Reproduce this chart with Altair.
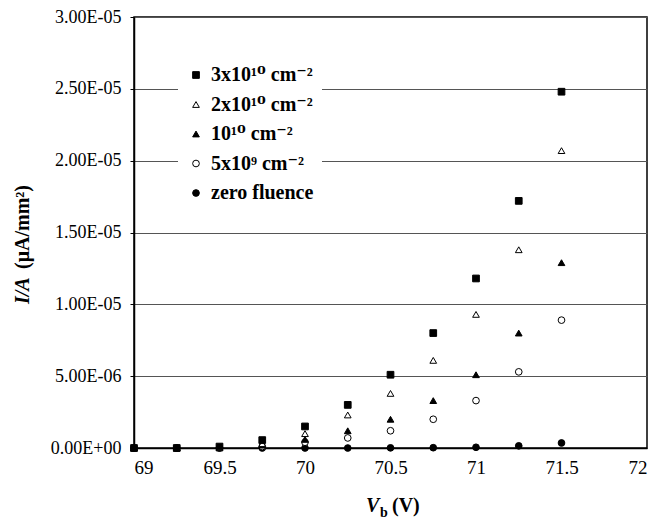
import altair as alt
import pandas as pd

vb = [69.0, 69.25, 69.5, 69.75, 70.0, 70.25, 70.5, 70.75, 71.0, 71.25, 71.5]
series_names = ["3x10¹⁰ cm⁻²", "2x10¹⁰ cm⁻²", "10¹⁰ cm⁻²", "5x10⁹ cm⁻²", "zero fluence"]
s_3e10 = [0.0, 0.0, 0.1e-6, 0.55e-6, 1.5e-6, 3.0e-6, 5.1e-6, 8.0e-6, 11.8e-6, 17.2e-6, 24.8e-6]
s_2e10 = [0.0, 0.0, 0.02e-6, 0.3e-6, 1.0e-6, 2.3e-6, 3.8e-6, 6.1e-6, 9.3e-6, 13.8e-6, 20.7e-6]
s_1e10 = [0.0, 0.0, 0.01e-6, 0.2e-6, 0.6e-6, 1.2e-6, 2.0e-6, 3.3e-6, 5.1e-6, 8.0e-6, 12.9e-6]
s_5e9 = [0.0, 0.0, 0.0, 0.1e-6, 0.4e-6, 0.7e-6, 1.2e-6, 2.0e-6, 3.3e-6, 5.3e-6, 8.9e-6]
s_zero = [0.0, 0.0, 0.0, 0.0, 0.0, 0.0, 0.01e-6, 0.02e-6, 0.05e-6, 0.15e-6, 0.35e-6]
x_ticks = [69, 69.5, 70, 70.5, 71, 71.5, 72]
y_ticks = [0, 5e-6, 1e-5, 1.5e-5, 2e-5, 2.5e-5, 3e-5]

shapes = ["square", "triangle-up", "triangle-up", "circle", "circle"]
fills = ["black", "white", "black", "white", "black"]
strokes = ["black"] * 5

rows = []
for name, vals in zip(series_names[::-1], [s_zero, s_5e9, s_1e10, s_2e10, s_3e10]):
    for x, y in zip(vb, vals):
        rows.append({"Vb": x, "IA": y, "series": name})
df = pd.DataFrame(rows)

FONT = "Liberation Serif, DejaVu Serif, serif"
W, H = 513, 431

legend = alt.Legend(
    title=None, orient="none", legendX=44, legendY=40, fillColor="white",
    labelFont=FONT, labelFontWeight="bold", labelFontSize=20, labelColor="black",
    symbolSize=45, symbolStrokeColor="black", symbolStrokeWidth=1,
    rowPadding=9.5, padding=8, labelOffset=5, labelLimit=300,
)

points = alt.Chart(df).mark_point(filled=True, strokeWidth=1, size=45, opacity=1).encode(
    x=alt.X("Vb:Q", scale=alt.Scale(domain=[69, 72], nice=False),
            axis=alt.Axis(values=x_ticks, format="~g", title=None, grid=False,
                          labelFont=FONT, labelFontSize=19, labelColor="black",
                          labelPadding=10, ticks=False, domainColor="black", domainWidth=1.5)),
    y=alt.Y("IA:Q", scale=alt.Scale(domain=[0, 3e-5], nice=False),
            axis=alt.Axis(values=y_ticks, title=None, grid=True, gridColor="#555", gridWidth=1,
                          labelExpr="replace(replace(format(datum.value, '.2e'), 'e-', 'E-0'), 'e+', 'E+0')",
                          labelFont=FONT, labelFontSize=18, labelColor="black",
                          tickSize=4, tickColor="black", labelPadding=9,
                          domainColor="black", domainWidth=1.5)),
    shape=alt.Shape("series:N", scale=alt.Scale(domain=series_names, range=shapes), legend=legend),
    fill=alt.Fill("series:N", scale=alt.Scale(domain=series_names, range=fills), legend=legend),
    stroke=alt.Stroke("series:N", scale=alt.Scale(domain=series_names, range=strokes), legend=legend),
)

one = alt.Data(values=[{"a": 1}])

def label(txt, x, y, size=20, style="normal", angle=0, align="left"):
    return alt.Chart(one).mark_text(
        text=txt, font=FONT, fontSize=size, fontWeight="bold", fontStyle=style,
        align=align, baseline="alphabetic", angle=angle, color="black",
    ).encode(x=alt.value(x), y=alt.value(y))

titles = [
    label("V", 232, 495, style="italic"),
    label("b", 246, 500, size=14),
    label("(V)", 258, 495),
    label("I/A", -105, 287, style="italic", angle=270),
    label("(μA/mm²)", -105, 252, angle=270),
]

chart = alt.layer(points, *titles).properties(
    width=W, height=H, padding={"left": 5, "top": 0, "right": 5, "bottom": 5}
).configure(background="white", font=FONT).configure_view(
    stroke="black", strokeWidth=1.5
).configure_axis(labelFont=FONT).configure_legend(labelFont=FONT)

chart.save("out.html", embed_options={"renderer": "svg", "actions": False})
